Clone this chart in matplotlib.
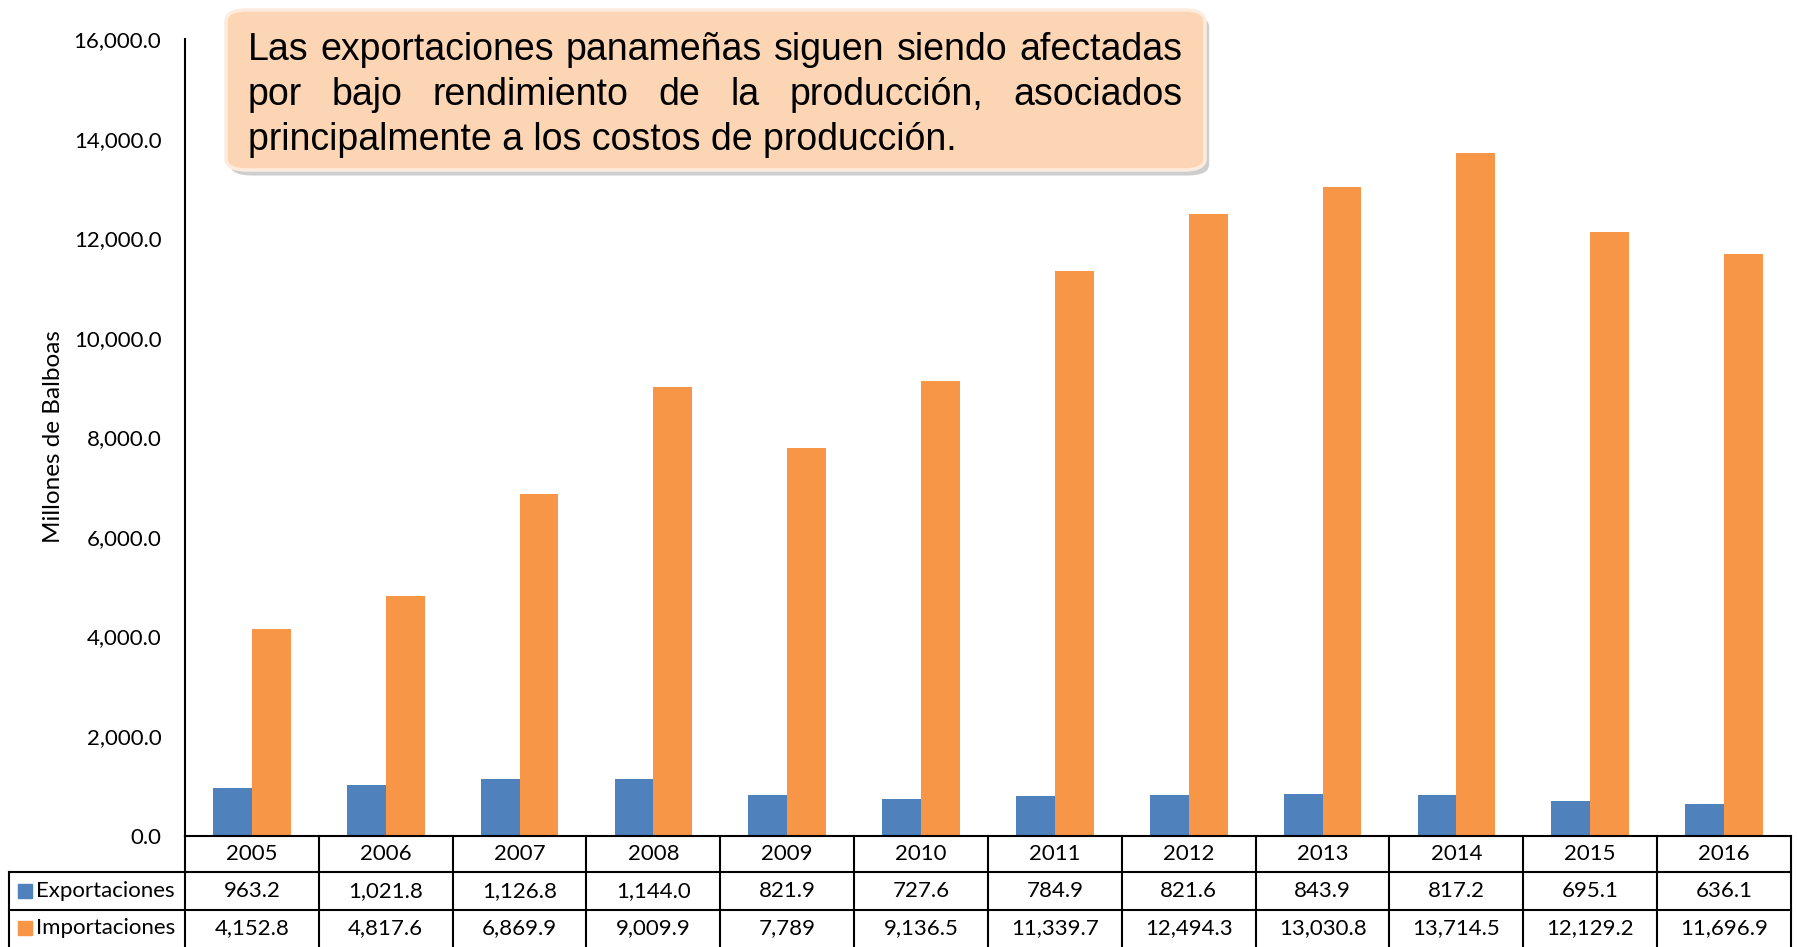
import matplotlib
matplotlib.use("Agg")
import matplotlib.pyplot as plt
import matplotlib.patheffects as pe
from matplotlib.patches import Rectangle, FancyBboxPatch
from matplotlib.lines import Line2D

# data
years = ["2005", "2006", "2007", "2008", "2009", "2010",
         "2011", "2012", "2013", "2014", "2015", "2016"]
exportaciones = [963.2, 1021.8, 1126.8, 1144.0, 821.9, 727.6,
                 784.9, 821.6, 843.9, 817.2, 695.1, 636.1]
importaciones = [4152.8, 4817.6, 6869.9, 9009.9, 7789.0, 9136.5,
                 11339.7, 12494.3, 13030.8, 13714.5, 12129.2, 11696.9]
exp_labels = ["963.2", "1,021.8", "1,126.8", "1,144.0", "821.9", "727.6",
              "784.9", "821.6", "843.9", "817.2", "695.1", "636.1"]
imp_labels = ["4,152.8", "4,817.6", "6,869.9", "9,009.9", "7,789", "9,136.5",
              "11,339.7", "12,494.3", "13,030.8", "13,714.5", "12,129.2", "11,696.9"]
series_names = ["Exportaciones", "Importaciones"]
yticks = [0, 2000, 4000, 6000, 8000, 10000, 12000, 14000, 16000]

title_lines = ["Las exportaciones panameñas siguen siendo afectadas",
               "por bajo rendimiento de la producción, asociados",
               "principalmente a los costos de producción."]

BLUE = "#4F81BD"
ORANGE = "#F79646"
W, H = 1799, 947
body_font = ["Lato", "DejaVu Sans"]


def fx(x):
    return x / W


def fy(y):
    return 1 - y / H


fig = plt.figure(figsize=(W / 100, H / 100), dpi=100)

# main axes
x0, x1 = 185, 1791
ytop, ybot = 39.5, 835.5
ax = fig.add_axes([fx(x0), fy(ybot), (x1 - x0) / W, (ybot - ytop) / H])
idx = list(range(len(years)))
ax.bar(idx, exportaciones, width=-0.29, align="edge", color=BLUE)
ax.bar(idx, importaciones, width=0.29, align="edge", color=ORANGE)
ax.set_xlim(-0.5, len(years) - 0.5)
ax.set_ylim(0, 16000)
ax.set_yticks(yticks)
ax.set_yticklabels([f"{v:,.1f}" for v in yticks], fontfamily=body_font, fontsize=16)
ax.tick_params(axis="y", length=0, pad=17)
ax.set_xticks([])
for s in ["top", "right", "bottom"]:
    ax.spines[s].set_visible(False)
ax.spines["left"].set_linewidth(1.5)
ax.patch.set_alpha(0)

fig.text(fx(54), fy(437), "Millones de Balboas", rotation=90, ha="center",
         va="center", fontsize=17.5, family=body_font)

# data table under the chart
col_w = (x1 - x0) / len(years)
rows_y = [835.5, 872, 910, 950]
lk = dict(color="black", lw=1.5, transform=fig.transFigure)
fig.add_artist(Line2D([fx(x0), fx(x1)], [fy(rows_y[0])] * 2, **lk))
for ry in rows_y[1:3]:
    fig.add_artist(Line2D([fx(9), fx(x1)], [fy(ry)] * 2, **lk))
fig.add_artist(Line2D([fx(9), fx(9)], [fy(rows_y[1]), fy(rows_y[3])], **lk))
for i in range(len(years) + 1):
    xx = x0 + i * col_w
    fig.add_artist(Line2D([fx(xx), fx(xx)], [fy(rows_y[0]), fy(rows_y[3])], **lk))

row_text = [years, exp_labels, imp_labels]
row_mid = [(rows_y[0] + rows_y[1]) / 2, (rows_y[1] + rows_y[2]) / 2, 928]
for r, labels in enumerate(row_text):
    for i, t in enumerate(labels):
        fig.text(fx(x0 + (i + 0.5) * col_w), fy(row_mid[r]), t, ha="center",
                 va="center", fontsize=16, family=body_font)

for name, col, my in zip(series_names, [BLUE, ORANGE], row_mid[1:]):
    fig.add_artist(Rectangle((fx(18), fy(my + 7)), 14 / W, 14 / H, color=col,
                             transform=fig.transFigure))
    fig.text(fx(36), fy(my), name, ha="left", va="center", fontsize=16,
             family=body_font)

# callout box
bx0, by0, bx1, by1 = 226, 10, 1205, 170
box = FancyBboxPatch((fx(bx0), fy(by1)), (bx1 - bx0) / W, (by1 - by0) / H,
                     boxstyle="round,pad=0,rounding_size=0.012",
                     transform=fig.transFigure, facecolor="#FCD5B4",
                     edgecolor="#FDEBDD", lw=2.5, zorder=5)
box.set_path_effects([pe.SimplePatchShadow(offset=(3, -4), shadow_rgbFace="0.45",
                                           alpha=0.35), pe.Normal()])
fig.add_artist(box)

# justified text lines
fig.canvas.draw()
rend = fig.canvas.get_renderer()
tx0, tx1 = 248, 1182
line_y = [50, 95, 140]
fs = 27
for k, line in enumerate(title_lines):
    words = line.split(" ")
    if k == len(title_lines) - 1:
        fig.text(fx(tx0), fy(line_y[k]), line, ha="left", va="center",
                 fontsize=fs, family="Liberation Sans", zorder=6)
        continue
    arts = [fig.text(0, 0, w, fontsize=fs, family="Liberation Sans", va="center",
                     ha="left", zorder=6) for w in words]
    widths = [a.get_window_extent(rend).width for a in arts]
    gap = (tx1 - tx0 - sum(widths)) / (len(words) - 1)
    xx = tx0
    for a, wd in zip(arts, widths):
        a.set_position((fx(xx), fy(line_y[k])))
        xx += wd + gap

fig.savefig("out.png", dpi=100)
